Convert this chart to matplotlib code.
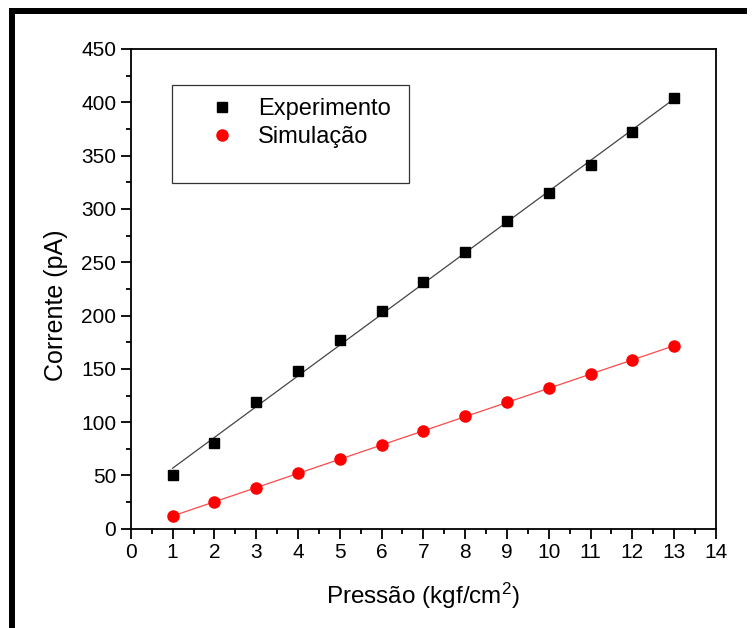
import numpy as np
import matplotlib
matplotlib.use("Agg")
import matplotlib.pyplot as plt
from matplotlib.lines import Line2D
from matplotlib.patches import Rectangle
from matplotlib.ticker import MultipleLocator

plt.rcParams['font.family'] = ['Liberation Sans', 'DejaVu Sans']
plt.rcParams['mathtext.fontset'] = 'custom'
plt.rcParams['mathtext.rm'] = 'Liberation Sans'
plt.rcParams['mathtext.it'] = 'Liberation Sans'

# pressure (kgf/cm2)
pressao = [1, 2, 3, 4, 5, 6, 7, 8, 9, 10, 11, 12, 13]
# current (pA)
experimento = [50, 80, 119, 148, 177, 204, 231, 260, 289, 315, 341, 372, 404]
simulacao = [12, 25, 38, 52, 65, 79, 92, 106, 119, 132, 145, 158, 171]

fig = plt.figure(figsize=(7.52, 6.28), dpi=100)
ax = fig.add_axes([0.174, 0.158, 0.778, 0.764])

x = np.array(pressao)
# linear fits
p_exp = np.polyfit(x, experimento, 1)
p_sim = np.polyfit(x, simulacao, 1)
ax.plot(x, np.polyval(p_exp, x), color='#444444', lw=0.9, zorder=2)
ax.plot(x, np.polyval(p_sim, x), color='#ff4a4a', lw=0.9, zorder=2)

ax.plot(x, experimento, 's', color='black', ms=7.5, mec='black', zorder=3, label='Experimento')
ax.plot(x, simulacao, 'o', color='red', ms=8, mec='red', zorder=3, label='Simulação')

ax.set_xlim(0, 14)
ax.set_ylim(0, 450)
ax.xaxis.set_major_locator(MultipleLocator(1))
ax.xaxis.set_minor_locator(MultipleLocator(0.5))
ax.yaxis.set_major_locator(MultipleLocator(50))
ax.yaxis.set_minor_locator(MultipleLocator(25))
ax.tick_params(which='major', direction='out', length=7.5, width=1.3, labelsize=15, pad=3)
ax.tick_params(which='minor', direction='out', length=3.5, width=1.3)
for s in ax.spines.values():
    s.set_linewidth(1.3)

ax.set_xlabel('Pressão (kgf/cm$^2$)', fontsize=17.5, labelpad=13)
ax.set_ylabel('Corrente (pA)', fontsize=18)
ax.yaxis.set_label_coords(-0.108, 0.465)

leg = ax.legend(loc='upper left', bbox_to_anchor=(0.096, 0.942), frameon=False,
                handlelength=1.2, handletextpad=0.92, labelspacing=0.25,
                prop={'size': 17})
ax.add_patch(Rectangle((0.070, 0.721), 0.405, 0.204, transform=ax.transAxes,
                       fill=False, edgecolor='#333333', lw=0.9, zorder=1))

# thick frame at top and left of the figure
fig.add_artist(Line2D([11.5 / 752, 11.5 / 752], [0, 1 - 8 / 628], transform=fig.transFigure,
                      color='black', lw=4.3, solid_capstyle='butt'))
fig.add_artist(Line2D([9 / 752, 747 / 752], [1 - 10.5 / 628, 1 - 10.5 / 628], transform=fig.transFigure,
                      color='black', lw=4.3, solid_capstyle='butt'))

fig.savefig('out.png', dpi=100)
